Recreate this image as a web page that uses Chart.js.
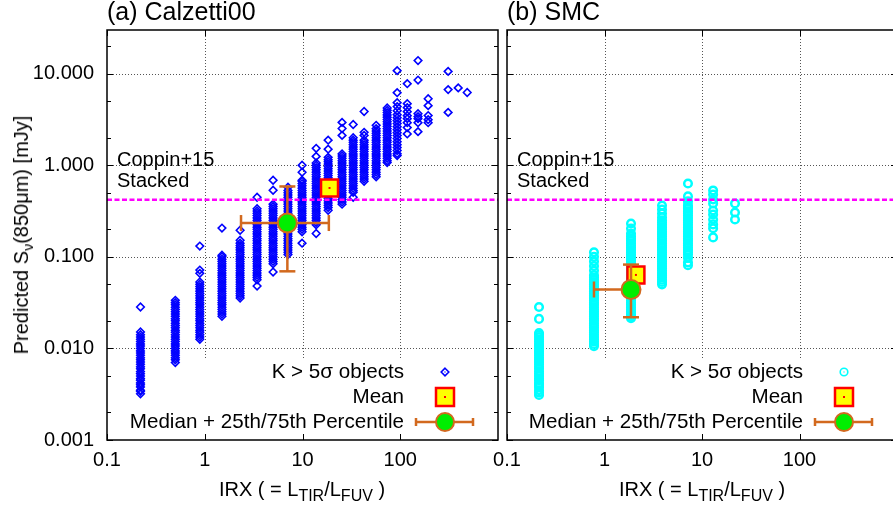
<!DOCTYPE html>
<html>
<head>
<meta charset="utf-8">
<script src="https://cdn.jsdelivr.net/npm/chart.js@4/dist/chart.umd.min.js"></script>
<style>
  html, body { margin: 0; padding: 0; background: #fff; overflow: hidden; }
  #page { position: relative; width: 893px; height: 512px; overflow: hidden; background: #fff;
          font-family: "Liberation Sans", Arial, sans-serif; color: #000; }
  canvas { position: absolute; top: 0; }
  .titre { position: absolute; top: -1px; font-size: 25px; line-height: 25px; white-space: nowrap; }
  .axe { position: absolute; font-size: 20px; line-height: 20px; white-space: nowrap; }
  .axe sub { font-size: 16px; line-height: 0; vertical-align: -5px; }
  .axe.vert sub { font-size: 14px; }
</style>
</head>
<body>
<div id="page">
  <canvas id="calzettiChart" width="518" height="512" style="left:0"></canvas>
  <canvas id="smcChart" width="477" height="512" style="left:440px"></canvas>
  <div class="titre" style="left:107px">(a) Calzetti00</div>
  <div class="titre" style="left:507px">(b) SMC</div>
  <div class="axe" style="left:302px; top:479px; transform:translateX(-50%)">IRX ( = L<sub>TIR</sub>/L<sub>FUV</sub> )</div>
  <div class="axe" style="left:702px; top:479px; transform:translateX(-50%)">IRX ( = L<sub>TIR</sub>/L<sub>FUV</sub> )</div>
  <div class="axe vert" style="left:21px; top:235px; transform:translate(-50%,-50%) rotate(-90deg)">Predicted S<sub>ν</sub>(850μm) [mJy]</div>
</div>
<script>
// Axes
const xMin = 0.1, xMax = 1000;
const yMin = 0.001, yMax = 30;
const xTicks = [0.1, 1, 10, 100];
const xTickLabels = ['0.1', '1', '10', '100'];
const yTicks = [0.001, 0.01, 0.1, 1, 10];
const yTickLabels = ['0.001', '0.010', '0.100', '1.000', '10.000'];
const yMinorTicks = [0.002, 0.005, 0.02, 0.05, 0.2, 0.5, 2, 5, 20];

// Ligne Coppin+15 (stack)
const fluxCoppin = 0.42;
const texteCoppin = ['Coppin+15', 'Stacked'];
const legendeTextes = ['K > 5σ objects', 'Mean', 'Median + 25th/75th Percentile'];

// (a) Calzetti00 : une colonne de points par valeur d'IRX
const irxCalzetti = [0.22, 0.5, 0.89, 1.5, 2.3, 3.43, 5.0, 7.1, 9.9, 13.8, 18.3, 25.4,
                     33, 42.7, 56.7, 73.5, 93, 118, 152, 193, 309, 392, 484];
const fluxCalzetti = [
    [0.0283, 0.0151, 0.0141, 0.0133, 0.0126, 0.0119, 0.0112, 0.0106, 0.01, 0.0094, 0.0089, 0.0084, 0.0079, 0.0075, 0.0071,
     0.0067, 0.0063, 0.006, 0.0056, 0.0053, 0.005, 0.0047, 0.0045, 0.0042, 0.004, 0.0038, 0.0035, 0.0034, 0.0032],
    [0.0335, 0.0316, 0.0299, 0.0282, 0.0266, 0.0251, 0.0237, 0.0224, 0.0211, 0.02, 0.0188, 0.0178, 0.0168, 0.0158, 0.015,
     0.0141, 0.0133, 0.0126, 0.0119, 0.0112, 0.0106, 0.01, 0.0094, 0.0089, 0.0084, 0.0079, 0.0075, 0.007],
    [0.131, 0.0717, 0.066, 0.0531, 0.0501, 0.0473, 0.0447, 0.0422, 0.0398, 0.0376, 0.0355, 0.0335, 0.0316, 0.0299, 0.0282,
     0.0266, 0.0251, 0.0237, 0.0224, 0.0211, 0.02, 0.0188, 0.0178, 0.0168, 0.0158, 0.015, 0.0141, 0.0133, 0.0126],
    [0.206, 0.104, 0.1, 0.0944, 0.0891, 0.0841, 0.0794, 0.075, 0.0708, 0.0668, 0.0631, 0.0596, 0.0562, 0.0531, 0.0501,
     0.0473, 0.0447, 0.0422, 0.0398, 0.0376, 0.0355, 0.0335, 0.0316, 0.0299, 0.0282, 0.0266, 0.0251, 0.0237, 0.0224],
    [0.195, 0.152, 0.141, 0.133, 0.126, 0.119, 0.112, 0.106, 0.1, 0.0944, 0.0891, 0.0841, 0.0794, 0.075, 0.0708, 0.0668,
     0.0631, 0.0596, 0.0562, 0.0531, 0.0501, 0.0473, 0.0447, 0.0422, 0.0398, 0.0376, 0.0355],
    [0.448, 0.335, 0.316, 0.299, 0.282, 0.266, 0.251, 0.237, 0.224, 0.211, 0.2, 0.188, 0.178, 0.168, 0.158, 0.15, 0.141,
     0.133, 0.126, 0.119, 0.112, 0.106, 0.1, 0.0944, 0.0891, 0.0841, 0.0794, 0.075, 0.0708, 0.0668, 0.0631, 0.0596, 0.0562, 0.048],
    [0.686, 0.534, 0.376, 0.355, 0.335, 0.316, 0.299, 0.282, 0.266, 0.251, 0.237, 0.224, 0.211, 0.2, 0.188, 0.178, 0.168,
     0.158, 0.15, 0.141, 0.133, 0.126, 0.119, 0.112, 0.106, 0.1, 0.0944, 0.0891, 0.0841, 0.0684],
    [0.575, 0.531, 0.501, 0.473, 0.447, 0.422, 0.398, 0.376, 0.355, 0.335, 0.316, 0.299, 0.282, 0.266, 0.251, 0.237, 0.224,
     0.211, 0.2, 0.188, 0.178, 0.168, 0.158, 0.15, 0.141, 0.133, 0.126, 0.119, 0.112, 0.106],
    [1.0, 0.84, 0.686, 0.668, 0.631, 0.596, 0.562, 0.531, 0.501, 0.473, 0.447, 0.422, 0.398, 0.376, 0.355, 0.335, 0.316,
     0.299, 0.282, 0.266, 0.251, 0.237, 0.224, 0.211, 0.2, 0.188, 0.141],
    [1.53, 1.25, 1.06, 1.0, 0.944, 0.891, 0.841, 0.794, 0.75, 0.708, 0.668, 0.631, 0.596, 0.562, 0.531, 0.501, 0.473, 0.447,
     0.422, 0.398, 0.376, 0.355, 0.335, 0.316, 0.299, 0.282, 0.266, 0.251, 0.237, 0.224, 0.18],
    [1.88, 1.5, 1.22, 1.15, 1.09, 1.03, 0.97, 0.917, 0.866, 0.818, 0.772, 0.729, 0.688, 0.649, 0.613, 0.579, 0.546, 0.516,
     0.487, 0.46, 0.434, 0.41, 0.387, 0.365, 0.345, 0.323],
    [2.94, 2.52, 2.12, 1.33, 1.26, 1.19, 1.12, 1.06, 1.0, 0.944, 0.891, 0.841, 0.794, 0.75, 0.708, 0.668, 0.631, 0.596,
     0.562, 0.531, 0.501, 0.473, 0.447, 0.422, 0.398, 0.376],
    [2.79, 2.0, 1.88, 1.78, 1.68, 1.58, 1.5, 1.41, 1.33, 1.26, 1.19, 1.12, 1.06, 1.0, 0.944, 0.891, 0.841, 0.794, 0.75,
     0.708, 0.668, 0.631, 0.596, 0.562, 0.531, 0.508, 0.448],
    [3.87, 2.29, 2.12, 1.88, 1.78, 1.68, 1.58, 1.5, 1.41, 1.33, 1.26, 1.19, 1.12, 1.06, 1.0, 0.944, 0.891, 0.841, 0.794,
     0.75, 0.708, 0.668],
    [2.73, 2.51, 2.37, 2.24, 2.11, 2.0, 1.88, 1.78, 1.68, 1.58, 1.5, 1.41, 1.33, 1.26, 1.19, 1.12, 1.06, 1.0, 0.944, 0.891,
     0.841, 0.794, 0.75],
    [4.22, 3.98, 3.76, 3.55, 3.35, 3.16, 2.99, 2.82, 2.66, 2.51, 2.37, 2.24, 2.11, 2.0, 1.88, 1.78, 1.68, 1.58, 1.5, 1.41,
     1.33, 1.26, 1.19, 1.12, 1.07],
    [10.8, 6.21, 4.83, 4.37, 3.94, 3.57, 3.31, 3.07, 2.85, 2.64, 2.45, 2.27, 2.11, 1.96, 1.81, 1.68, 1.56, 1.45, 1.34, 1.28],
    [7.78, 4.71, 4.26, 3.85, 3.48, 3.23, 2.92, 2.58, 2.2],
    [13.9, 8.52, 3.66, 3.4, 3.23, 2.92, 2.33],
    [5.33, 4.48, 3.49, 3.15, 2.92],
    [10.6, 6.7, 3.78],
    [7.0],
    [6.24]
];
const moyenneCalzetti = [18.9, 0.565];
const medianeCalzetti = [7.0, 0.234];
const percXCalzetti = [2.35, 18.6];
const percYCalzetti = [0.0695, 0.587];

// (b) SMC
const irxSMC = [0.213, 0.78, 1.87, 3.89, 7.18, 13.0, 21.8];
const fluxSMC = [
    [0.0283, 0.021, 0.0147, 0.0141, 0.0133, 0.0126, 0.0119, 0.0112, 0.0106, 0.01, 0.0094, 0.0089, 0.0084, 0.0079, 0.0075,
     0.0071, 0.0067, 0.0063, 0.006, 0.0056, 0.0053, 0.005, 0.0047, 0.0045, 0.0042, 0.004, 0.0038, 0.0035, 0.0033, 0.0031],
    [0.112, 0.1, 0.0891, 0.0794, 0.0708, 0.0631, 0.0596, 0.0562, 0.0531, 0.0501, 0.0473, 0.0447, 0.0422, 0.0398, 0.0376,
     0.0355, 0.0335, 0.0316, 0.0299, 0.0282, 0.0266, 0.0251, 0.0237, 0.0224, 0.0211, 0.02, 0.0188, 0.0178, 0.0168, 0.0158,
     0.015, 0.0141, 0.0133, 0.0126, 0.0119, 0.0112, 0.0106],
    [0.231, 0.204, 0.18, 0.168, 0.158, 0.15, 0.141, 0.133, 0.126, 0.119, 0.112, 0.106, 0.1, 0.0944, 0.0891, 0.0841, 0.0794,
     0.075, 0.0708, 0.0668, 0.0631, 0.0596, 0.0562, 0.0531, 0.0501, 0.0473, 0.0447, 0.0422, 0.0398, 0.0376, 0.0355, 0.0335,
     0.0316, 0.0299, 0.0282, 0.0266, 0.0251, 0.0237, 0.0224, 0.0214],
    [0.364, 0.329, 0.297, 0.27, 0.251, 0.237, 0.224, 0.211, 0.2, 0.188, 0.178, 0.168, 0.158, 0.15, 0.141, 0.133, 0.126,
     0.119, 0.112, 0.106, 0.1, 0.0944, 0.0891, 0.0841, 0.0794, 0.075, 0.0708, 0.0668, 0.0631, 0.0596, 0.0562, 0.0531, 0.0501],
    [0.633, 0.457, 0.403, 0.367, 0.35, 0.335, 0.315, 0.299, 0.282, 0.266, 0.251, 0.237, 0.224, 0.211, 0.2, 0.188, 0.178,
     0.168, 0.158, 0.15, 0.141, 0.134, 0.126, 0.119, 0.112, 0.106, 0.0975, 0.0871, 0.0812],
    [0.531, 0.48, 0.423, 0.383, 0.321, 0.29, 0.256, 0.226, 0.205, 0.163],
    [0.383, 0.305, 0.256]
];
const moyenneSMC = [2.1, 0.0635];
const medianeSMC = [1.87, 0.044];
const percXSMC = [0.78, 1.87];
const percYSMC = [0.0219, 0.0823];

const COUL = {
    bleu: '#0000ff', cyan: '#00ffff', magenta: '#ff00ff', jaune: '#ffff00',
    rouge: '#ff0000', vert: '#00ee00', brun: '#d2691e', grille: '#555'
};
const POLICE = '20px "Liberation Sans", Arial, sans-serif';
const POLICE_LEGENDE = '20.6px "Liberation Sans", Arial, sans-serif';

function aplatir(irx, flux) {
    const points = [];
    irx.forEach((x, i) => flux[i].forEach(y => points.push({ x: x, y: y })));
    return points;
}

// Grille, cadre, graduations internes, texte Coppin et légende (façon gnuplot)
const decor = {
    id: 'decor',
    beforeDatasetsDraw(chart) {
        const { ctx, chartArea: a, scales } = chart;
        ctx.save();
        ctx.strokeStyle = COUL.grille;
        ctx.lineWidth = 1;
        ctx.setLineDash([1, 2]);
        xTicks.forEach(v => {
            const px = Math.round(scales.x.getPixelForValue(v)) + 0.5;
            if (px < a.left + 2) return;
            ctx.beginPath(); ctx.moveTo(px, a.top); ctx.lineTo(px, a.bottom - 82); ctx.stroke();
        });
        yTicks.forEach(v => {
            const py = Math.round(scales.y.getPixelForValue(v)) + 0.5;
            if (py > a.bottom - 2) return;
            ctx.beginPath(); ctx.moveTo(a.left, py); ctx.lineTo(a.right, py); ctx.stroke();
        });
        ctx.restore();
    },
    afterDatasetsDraw(chart) {
        const { ctx, chartArea: a, scales } = chart;
        const trait = (x1, y1, x2, y2) => { ctx.beginPath(); ctx.moveTo(x1, y1); ctx.lineTo(x2, y2); ctx.stroke(); };
        ctx.save();
        ctx.strokeStyle = '#000';
        ctx.lineWidth = 1;
        yTicks.concat(yMinorTicks).forEach(v => {
            const py = Math.round(scales.y.getPixelForValue(v)) + 0.5;
            const l = yTicks.includes(v) ? 6 : 4;
            trait(a.left, py, a.left + l, py);
            trait(a.right, py, a.right - l, py);
        });
        xTicks.forEach(v => {
            const px = Math.round(scales.x.getPixelForValue(v)) + 0.5;
            trait(px, a.bottom, px, a.bottom - 6);
            trait(px, a.top, px, a.top + 6);
        });
        ctx.lineWidth = 1.5;
        ctx.strokeRect(a.left, a.top, a.right - a.left, a.bottom - a.top);
        ctx.restore();
    },
    afterDraw(chart, args, opts) {
        const { ctx, chartArea: a } = chart;
        ctx.save();
        ctx.font = POLICE;
        ctx.fillStyle = '#000';
        ctx.textAlign = 'left';
        ctx.textBaseline = 'alphabetic';
        ctx.fillText(texteCoppin[0], a.left + 10, a.top + 136);
        ctx.fillText(texteCoppin[1], a.left + 10, a.top + 157);

        // Légende en bas à droite
        const xt = a.right - 94, xs = a.right - 53;
        const lignes = [a.bottom - 68, a.bottom - 43, a.bottom - 18];
        ctx.font = POLICE_LEGENDE;
        ctx.textAlign = 'right';
        ctx.textBaseline = 'middle';
        legendeTextes.forEach((t, i) => ctx.fillText(t, xt, lignes[i]));

        // symbole des objets (trait fin + point central)
        let y = lignes[0];
        ctx.strokeStyle = opts.couleur;
        ctx.fillStyle = opts.couleur;
        ctx.lineWidth = 1.6;
        ctx.beginPath();
        if (opts.forme === 'rectRot') {
            const r = opts.rayon;
            ctx.moveTo(xs, y - r); ctx.lineTo(xs + r, y); ctx.lineTo(xs, y + r); ctx.lineTo(xs - r, y); ctx.closePath();
        } else {
            ctx.arc(xs, y, opts.rayon, 0, Math.PI * 2);
        }
        ctx.stroke();
        ctx.fillRect(xs - 0.6, y - 0.6, 1.2, 1.2);

        // moyenne
        y = lignes[1];
        ctx.fillStyle = COUL.jaune;
        ctx.fillRect(xs - 9, y - 9, 18, 18);
        ctx.strokeStyle = COUL.rouge;
        ctx.lineWidth = 2.5;
        ctx.strokeRect(xs - 9, y - 9, 18, 18);
        ctx.fillStyle = COUL.rouge;
        ctx.fillRect(xs - 1, y - 1, 2, 2);

        // médiane + percentiles
        y = lignes[2];
        ctx.strokeStyle = COUL.brun;
        ctx.lineWidth = 2.5;
        ctx.beginPath();
        ctx.moveTo(xs - 29, y); ctx.lineTo(xs + 28, y);
        ctx.moveTo(xs - 29, y - 4); ctx.lineTo(xs - 29, y + 4);
        ctx.moveTo(xs + 28, y - 4); ctx.lineTo(xs + 28, y + 4);
        ctx.stroke();
        ctx.beginPath();
        ctx.arc(xs, y, 9, 0, Math.PI * 2);
        ctx.fillStyle = COUL.vert;
        ctx.fill();
        ctx.lineWidth = 2;
        ctx.stroke();
        ctx.restore();
    }
};

function creerPanneau(idCanvas, p) {
    const pt = (c) => ({ x: c[0], y: c[1] });
    new Chart(document.getElementById(idCanvas), {
        type: 'scatter',
        data: {
            datasets: [
                {   // objets K > 5 sigma
                    data: aplatir(p.irx, p.flux),
                    pointStyle: p.forme,
                    pointRadius: p.rayon,
                    pointBorderWidth: p.epaisseur,
                    pointBorderColor: p.couleur,
                    pointBackgroundColor: 'rgba(0,0,0,0)',
                    order: 10
                },
                {   // Coppin+15 stacked
                    type: 'line',
                    data: [{ x: xMin, y: fluxCoppin }, { x: xMax, y: fluxCoppin }],
                    showLine: true,
                    borderColor: COUL.magenta,
                    borderWidth: 2.5,
                    borderDash: [5, 2.5],
                    pointRadius: 0,
                    order: 9
                },
                {   // moyenne
                    data: [pt(p.moyenne)],
                    pointStyle: 'rect',
                    pointRadius: 12,
                    pointBackgroundColor: COUL.jaune,
                    pointBorderColor: COUL.rouge,
                    pointBorderWidth: 2.5,
                    order: 8
                },
                {
                    data: [pt(p.moyenne)],
                    pointStyle: 'rect',
                    pointRadius: 1.4,
                    pointBackgroundColor: COUL.rouge,
                    pointBorderWidth: 0,
                    order: 7
                },
                {   // barre 25e/75e percentile en x
                    type: 'line',
                    data: [{ x: p.percX[0], y: p.mediane[1] }, { x: p.percX[1], y: p.mediane[1] }],
                    showLine: true,
                    borderColor: COUL.brun,
                    borderWidth: 2.5,
                    pointStyle: 'line',
                    pointRotation: 90,
                    pointRadius: 8,
                    pointBorderWidth: 2.5,
                    pointBorderColor: COUL.brun,
                    order: 6
                },
                {   // barre 25e/75e percentile en y
                    type: 'line',
                    data: [{ x: p.mediane[0], y: p.percY[0] }, { x: p.mediane[0], y: p.percY[1] }],
                    showLine: true,
                    borderColor: COUL.brun,
                    borderWidth: 2.5,
                    pointStyle: 'line',
                    pointRadius: 8,
                    pointBorderWidth: 2.5,
                    pointBorderColor: COUL.brun,
                    order: 5
                },
                {   // médiane
                    data: [pt(p.mediane)],
                    pointStyle: 'circle',
                    pointRadius: 9.5,
                    pointBackgroundColor: COUL.vert,
                    pointBorderColor: COUL.brun,
                    pointBorderWidth: 2,
                    order: 4
                }
            ]
        },
        options: {
            responsive: false,
            animation: false,
            events: [],
            layout: { padding: { top: 30, right: 20, left: 0, bottom: 0 } },
            plugins: {
                legend: { display: false },
                tooltip: { enabled: false },
                decor: { forme: p.forme, couleur: p.couleur, rayon: p.rayon }
            },
            scales: {
                x: {
                    type: 'logarithmic',
                    min: xMin, max: xMax,
                    grid: { display: false, drawTicks: false },
                    border: { display: false },
                    afterBuildTicks: s => { s.ticks = xTicks.map(v => ({ value: v })); },
                    afterFit: s => { s.height = 72; },
                    ticks: {
                        autoSkip: false, maxRotation: 0, padding: 8, color: '#000',
                        font: { family: '"Liberation Sans", Arial, sans-serif', size: 20 },
                        callback: (v, i) => xTickLabels[i]
                    }
                },
                y: {
                    type: 'logarithmic',
                    min: yMin, max: yMax,
                    grid: { display: false, drawTicks: false },
                    border: { display: false },
                    afterBuildTicks: s => { s.ticks = yTicks.map(v => ({ value: v })); },
                    afterFit: s => { s.width = p.largeurAxeY; },
                    ticks: {
                        display: p.labelsY, autoSkip: false, padding: 13, color: '#000',
                        font: { family: '"Liberation Sans", Arial, sans-serif', size: 20 },
                        callback: (v, i) => yTickLabels[i]
                    }
                }
            }
        },
        plugins: [decor]
    });
}

creerPanneau('calzettiChart', {
    irx: irxCalzetti, flux: fluxCalzetti,
    moyenne: moyenneCalzetti, mediane: medianeCalzetti, percX: percXCalzetti, percY: percYCalzetti,
    forme: 'rectRot', couleur: COUL.bleu, rayon: 3.8, epaisseur: 1.6,
    largeurAxeY: 107, labelsY: true
});

creerPanneau('smcChart', {
    irx: irxSMC, flux: fluxSMC,
    moyenne: moyenneSMC, mediane: medianeSMC, percX: percXSMC, percY: percYSMC,
    forme: 'circle', couleur: COUL.cyan, rayon: 3.8, epaisseur: 2.5,
    largeurAxeY: 67, labelsY: false
});
</script>
</body>
</html>
